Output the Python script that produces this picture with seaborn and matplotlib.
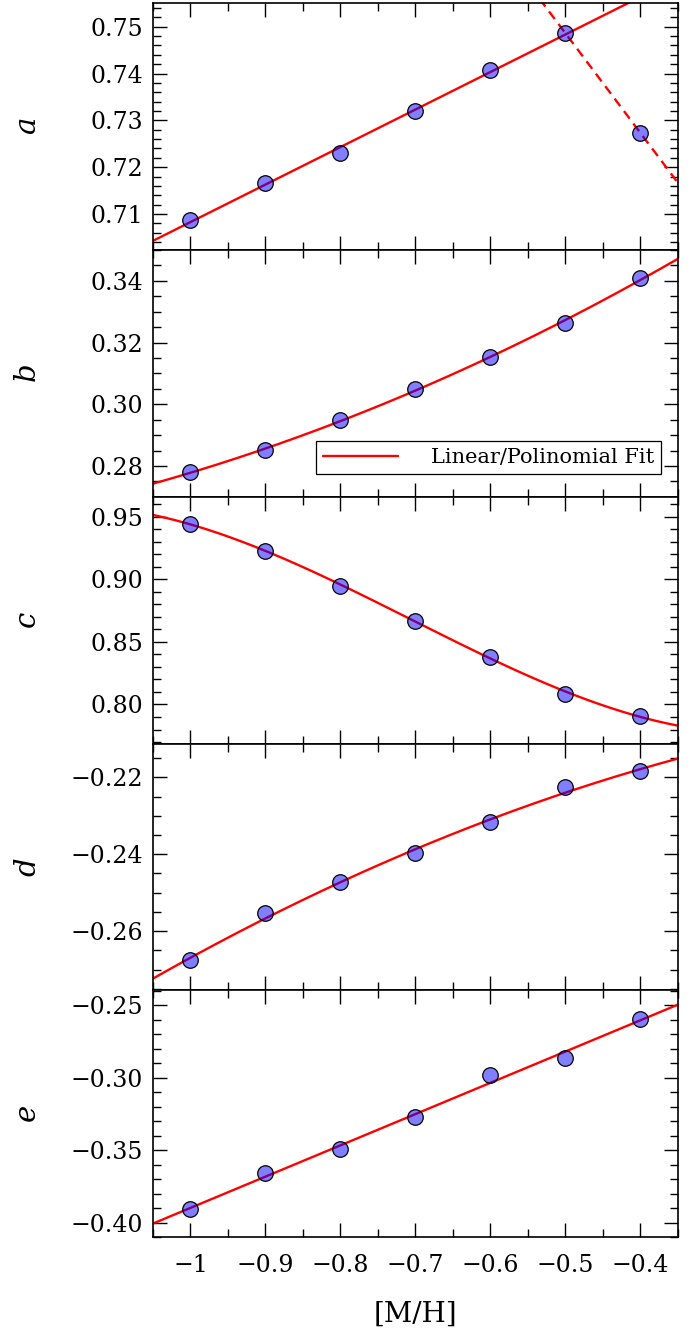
import numpy as np
import pandas as pd
import matplotlib
matplotlib.use("Agg")
import matplotlib.pyplot as plt
import seaborn as sns
from matplotlib.ticker import MultipleLocator, FuncFormatter

# Metallicity grid and fitted coefficients at each [M/H]
metallicity = [-1.0, -0.9, -0.8, -0.7, -0.6, -0.5, -0.4]
coef_a = [0.7087, 0.7167, 0.7231, 0.7321, 0.7407, 0.7486, 0.7273]
coef_b = [0.2779, 0.2852, 0.2948, 0.3050, 0.3154, 0.3264, 0.3408]
coef_c = [0.9440, 0.9227, 0.8949, 0.8666, 0.8383, 0.8084, 0.7907]
coef_d = [-0.2676, -0.2554, -0.2471, -0.2397, -0.2316, -0.2226, -0.2183]
coef_e = [-0.3908, -0.3656, -0.3489, -0.3271, -0.2981, -0.2862, -0.2592]

panel_names = ["a", "b", "c", "d", "e"]
fit_degrees = [1, 2, 3, 2, 1]
x_tick_values = [-1.0, -0.9, -0.8, -0.7, -0.6, -0.5, -0.4]
x_tick_labels = ["\u22121", "\u22120.9", "\u22120.8", "\u22120.7", "\u22120.6", "\u22120.5", "\u22120.4"]
legend_label = "Linear/Polinomial Fit"
x_label = "[M/H]"

y_limits = [(0.7023, 0.7550), (0.2700, 0.3500), (0.7688, 0.9659),
            (-0.2754, -0.2112), (-0.4100, -0.2397)]
y_major = [0.01, 0.02, 0.05, 0.02, 0.05]
y_minor = [0.002, 0.005, 0.01, 0.005, 0.01]

sns.set_style("ticks")
plt.rcParams["font.family"] = ["DejaVu Serif"]
plt.rcParams["mathtext.fontset"] = "dejavuserif"
plt.rcParams["axes.linewidth"] = 1.2
plt.rcParams["axes.edgecolor"] = "black"
plt.rcParams["text.color"] = "black"
plt.rcParams["axes.labelcolor"] = "black"
plt.rcParams["xtick.color"] = "black"
plt.rcParams["ytick.color"] = "black"

series = [coef_a, coef_b, coef_c, coef_d, coef_e]
x_fine = np.linspace(-1.05, -0.35, 300)

fig, axes = plt.subplots(5, 1, figsize=(6.97, 13.32), dpi=100, sharex=True)
fig.subplots_adjust(left=0.2195, right=0.9727, top=0.9975, bottom=0.0713, hspace=0)

fmt = FuncFormatter(lambda v, _: f"{v:.2f}".replace("-", "\u2212"))

for i, (ax, name, vals, deg) in enumerate(zip(axes, panel_names, series, fit_degrees)):
    pts = pd.DataFrame({"mh": metallicity, "val": vals})
    if name == "a":
        # linear trend through the metal-poor points, plus the break at the end
        main = pts.iloc[:6]
        p = np.polyfit(main["mh"], main["val"], 1)
        tail = pts.iloc[5:]
        q = np.polyfit(tail["mh"], tail["val"], 1)
        sns.lineplot(x=x_fine, y=np.polyval(q, x_fine), ax=ax, color="red",
                     lw=1.7, linestyle=(0, (4, 2.6)), zorder=2)
    else:
        p = np.polyfit(pts["mh"], pts["val"], deg)
    sns.lineplot(x=x_fine, y=np.polyval(p, x_fine), ax=ax, color="red", lw=1.7,
                 zorder=2, legend=False)
    sns.scatterplot(data=pts, x="mh", y="val", ax=ax, s=125,
                    facecolor=(0.0, 0.0, 1.0, 0.5), edgecolor="black",
                    linewidth=0.9, zorder=3, legend=False)

    ax.set_xlim(-1.05, -0.35)
    ax.set_ylim(*y_limits[i])
    ax.yaxis.set_major_locator(MultipleLocator(y_major[i]))
    ax.yaxis.set_minor_locator(MultipleLocator(y_minor[i]))
    ax.yaxis.set_major_formatter(fmt)
    ax.xaxis.set_minor_locator(MultipleLocator(0.05))
    ax.tick_params(which="both", direction="in", top=True, right=True,
                   labelsize=17, width=1.0, color="black")
    ax.tick_params(which="major", length=10)
    ax.tick_params(axis="y", which="major", pad=7)
    ax.tick_params(axis="x", which="major", pad=12)
    ax.tick_params(which="minor", length=5.5)
    ax.set_ylabel(f"${name}$", fontsize=21)
    ax.yaxis.set_label_coords(-0.211, 0.5)
    ax.set_xlabel("")
    for s in ax.spines.values():
        s.set_visible(True)

axes[-1].set_xticks(x_tick_values)
axes[-1].set_xticklabels(x_tick_labels)
axes[-1].set_xlabel(x_label, fontsize=20, labelpad=17)

b_fit = [ln for ln in axes[1].lines if ln.get_linestyle() == "-"][0]
leg = axes[1].legend(handles=[b_fit], labels=[legend_label],
                     loc="lower right", fontsize=15, frameon=True, fancybox=False,
                     edgecolor="black", framealpha=1, handlelength=3.6,
                     handletextpad=1.6, borderpad=0.33, borderaxespad=0,
                     bbox_to_anchor=(0.9676, 0.092))
leg.get_frame().set_linewidth(0.9)

fig.savefig("out.png", dpi=100)
